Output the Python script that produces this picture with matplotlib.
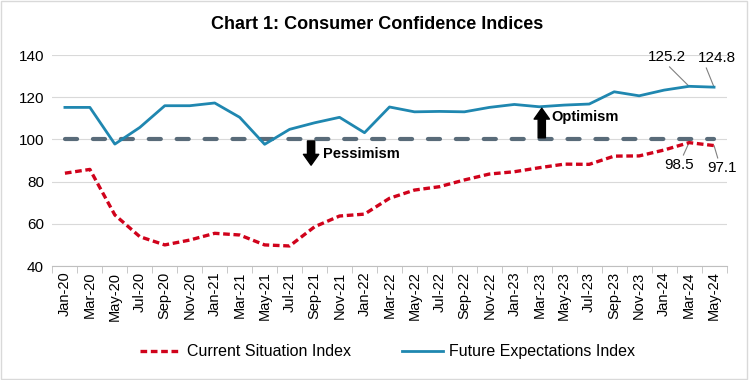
import matplotlib.pyplot as plt
from matplotlib.patches import Rectangle

months = ["Jan-20", "Mar-20", "May-20", "Jul-20", "Sep-20", "Nov-20",
          "Jan-21", "Mar-21", "May-21", "Jul-21", "Sep-21", "Nov-21",
          "Jan-22", "Mar-22", "May-22", "Jul-22", "Sep-22", "Nov-22",
          "Jan-23", "Mar-23", "May-23", "Jul-23", "Sep-23", "Nov-23",
          "Jan-24", "Mar-24", "May-24"]
current = [84.0, 85.8, 64.2, 53.9, 50.0, 52.3, 55.5, 54.7, 50.0, 49.5, 58.6, 63.7,
           64.6, 72.1, 76.0, 77.6, 80.8, 83.6, 84.7, 86.6, 88.3, 88.2, 92.1, 92.2,
           95.0, 98.5, 97.1]
future = [115.2, 115.2, 97.8, 105.7, 116.0, 116.0, 117.3, 110.5, 97.7, 104.8, 107.9, 110.5,
          103.2, 115.4, 113.1, 113.3, 113.1, 115.2, 116.6, 115.5, 116.3, 116.8, 122.6, 120.7,
          123.4, 125.2, 124.8]
neutral = 100

plt.rcParams['font.family'] = ['Liberation Sans', 'DejaVu Sans']

fig = plt.figure(figsize=(7.49, 3.80), dpi=100)
fig.patches.append(Rectangle((0.002, 0.003), 0.995, 0.994, transform=fig.transFigure,
                             fill=False, edgecolor='#d9d9d9', linewidth=1))
ax = fig.add_axes([0.070, 0.300, 0.900, 0.555])

x = range(len(months))
ax.plot(x, [neutral] * len(months), color='#596b79', linewidth=3.0,
        dashes=(2.9, 3.8), dash_capstyle='round', zorder=3)
ax.plot(x, future, color='#1f87b0', linewidth=2.0, zorder=4,
        label='Future Expectations Index')
ax.plot(x, current, color='#d0021b', linewidth=2.4, dashes=(2.0, 1.1), zorder=4,
        label='Current Situation Index')

ax.set_ylim(40, 140)
ax.set_xlim(-0.5, len(months) - 0.5)
ax.set_yticks([40, 60, 80, 100, 120, 140])
ax.set_xticks(list(x))
ax.set_xticklabels(months, rotation=90)
ax.set_xticks([i - 0.5 for i in range(len(months) + 1)], minor=True)
ax.tick_params(axis='x', which='major', length=0, labelsize=10.5, pad=4)
ax.tick_params(axis='x', which='minor', length=5, color='#bfbfbf')
ax.tick_params(axis='y', length=0, labelsize=11, pad=6)
ax.grid(axis='y', color='#d9d9d9', linewidth=0.8)
ax.set_axisbelow(True)
for s in ['top', 'right', 'left']:
    ax.spines[s].set_visible(False)
ax.spines['bottom'].set_color('#bfbfbf')

fig.text(0.503, 0.935, "Chart 1: Consumer Confidence Indices", ha='center', va='center',
         fontsize=13, fontweight='bold')

# optimism / pessimism markers
arrow = dict(arrowstyle='simple,head_width=0.85,head_length=0.6,tail_width=0.4',
             color='black', mutation_scale=13, shrinkA=0, shrinkB=0)
ax.annotate('', xy=(19.1, 114.8), xytext=(19.1, 100.8), arrowprops=arrow, zorder=5)
ax.text(19.5, 110.6, 'Optimism', fontsize=10.5, fontweight='bold', va='center')
ax.annotate('', xy=(9.86, 87.8), xytext=(9.86, 99.3), arrowprops=arrow, zorder=5)
ax.text(10.34, 93.1, 'Pessimism', fontsize=10.5, fontweight='bold', va='center')

# data labels
lead = dict(arrowstyle='-', color='#808080', linewidth=0.8, shrinkA=0, shrinkB=0)
ax.annotate(f"{future[-2]:.1f}", xy=(25, future[-2]), xytext=(24.1, 139.1),
            ha='center', va='center', fontsize=11,
            arrowprops=dict(lead, relpos=(0.5, 0)))
ax.annotate(f"{future[-1]:.1f}", xy=(26, future[-1]), xytext=(26.1, 138.6),
            ha='center', va='center', fontsize=11,
            arrowprops=dict(lead, relpos=(0.2, 0)))
ax.annotate(f"{current[-2]:.1f}", xy=(25, current[-2]), xytext=(24.6, 87.9),
            ha='center', va='center', fontsize=11,
            arrowprops=dict(lead, relpos=(0.6, 1)))
ax.annotate(f"{current[-1]:.1f}", xy=(26, current[-1]), xytext=(26.3, 86.5),
            ha='center', va='center', fontsize=11,
            arrowprops=dict(lead, relpos=(0.4, 1)))

handles, labels = ax.get_legend_handles_labels()
fig.legend(handles[::-1], labels[::-1], loc='center', bbox_to_anchor=(0.517, 0.074), ncol=2,
           frameon=False, handlelength=2.6, columnspacing=3.2, handletextpad=0.35,
           fontsize=11.5)

fig.savefig('out.png', dpi=100)
